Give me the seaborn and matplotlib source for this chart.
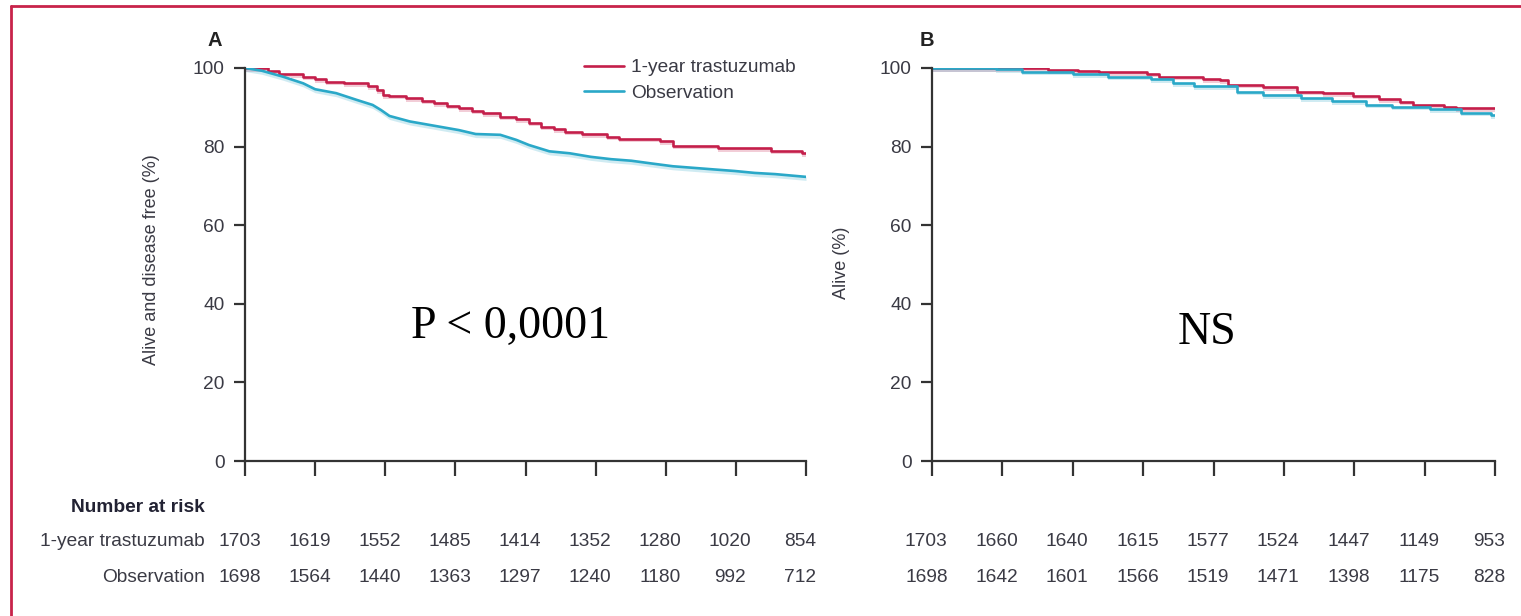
import numpy as np
import pandas as pd
import matplotlib
matplotlib.use("Agg")
import matplotlib.pyplot as plt
import matplotlib.transforms as mtransforms
from matplotlib import font_manager as fm
from matplotlib.lines import Line2D
import seaborn as sns

# ---------------- data ----------------
groups = ["1-year trastuzumab", "Observation"]

# Panel A: disease-free survival (years, %)
a_tras_t = [0, 0.33, 0.48, 0.65, 0.83, 1.00, 1.15, 1.41, 1.76, 1.88, 1.97, 2.06, 2.29, 2.53, 2.70,
            2.88, 3.05, 3.23, 3.40, 3.64, 3.87, 4.05, 4.22, 4.40, 4.57, 4.81, 5.16, 5.34, 5.92,
            6.10, 6.74, 7.50, 7.94, 8.0]
a_tras_s = [100, 99.3, 98.6, 98.4, 97.8, 97.1, 96.5, 96.1, 95.4, 94.4, 93.1, 92.9, 92.3, 91.7, 91.0,
            90.4, 89.7, 89.1, 88.5, 87.6, 86.9, 86.1, 85.1, 84.4, 83.8, 83.2, 82.5, 82.0, 81.3,
            80.2, 79.6, 78.9, 78.3, 78.3]
a_obs_t = [0, 0.24, 0.54, 0.83, 1.00, 1.30, 1.59, 1.82, 1.94, 2.06, 2.35, 2.70, 3.05, 3.29, 3.64,
           3.87, 4.05, 4.34, 4.63, 4.93, 5.22, 5.51, 5.80, 6.10, 6.39, 6.68, 6.98, 7.27, 7.56, 8.0]
a_obs_s = [100, 99.3, 97.8, 96.1, 94.6, 93.6, 91.9, 90.6, 89.3, 87.8, 86.4, 85.3, 84.2, 83.2, 83.0,
           81.7, 80.4, 78.8, 78.3, 77.4, 76.8, 76.4, 75.7, 75.0, 74.6, 74.2, 73.8, 73.3, 73.0, 72.3]

# Panel B: overall survival (years, %)
b_tras_t = [0, 0.91, 1.65, 2.07, 2.38, 3.05, 3.23, 3.85, 4.09, 4.21, 4.70, 5.19, 5.56, 5.98, 6.35,
            6.65, 6.84, 7.27, 7.45, 8.0]
b_tras_s = [100, 100, 99.5, 99.2, 98.9, 98.5, 97.8, 97.2, 96.9, 95.8, 95.1, 94.0, 93.6, 92.9, 92.1,
            91.4, 90.6, 90.2, 89.7, 89.7]
b_obs_t = [0, 0.91, 1.28, 2.01, 2.50, 3.11, 3.42, 3.72, 4.33, 4.70, 5.25, 5.68, 6.16, 6.53, 7.08,
           7.51, 7.94, 8.0]
b_obs_s = [100, 99.7, 99.1, 98.4, 97.8, 97.1, 96.1, 95.3, 94.0, 93.1, 92.3, 91.6, 90.7, 90.2, 89.5,
           88.6, 88.0, 88.0]

risk_times = [0, 1, 2, 3, 4, 5, 6, 7, 8]
a_risk_tras = [1703, 1619, 1552, 1485, 1414, 1352, 1280, 1020, 854]
a_risk_obs = [1698, 1564, 1440, 1363, 1297, 1240, 1180, 992, 712]
b_risk_tras = [1703, 1660, 1640, 1615, 1577, 1524, 1447, 1149, 953]
b_risk_obs = [1698, 1642, 1601, 1566, 1519, 1471, 1398, 1175, 828]

y_ticks = [0, 20, 40, 60, 80, 100]

# ---------------- style ----------------
sns.set_style("white")
def pick_font(cands):
    for c in cands:
        try:
            fm.findfont(fm.FontProperties(family=c), fallback_to_default=False)
            return c
        except Exception:
            pass
    return "DejaVu Sans"
SANS = pick_font(["Liberation Sans", "Arial"])
SERIF = pick_font(["Liberation Serif", "DejaVu Serif"])
plt.rcParams["font.family"] = [SANS, "DejaVu Sans"]

RED = "#C41E4A"
BLUE = "#2AA8C8"
TXT = "#3a3a44"
FS = 13.8
palette = {groups[0]: RED, groups[1]: BLUE}

W, H = 1521, 616
fig = plt.figure(figsize=(W / 100, H / 100), dpi=100)

def frac(x0, y0, x1, y1):
    return [x0 / W, 1 - y1 / H, (x1 - x0) / W, (y1 - y0) / H]

axA = fig.add_axes(frac(245, 68, 806, 461))
axB = fig.add_axes(frac(932, 68, 1495, 461))

def make_df(t, s, g):
    return pd.DataFrame({"t": t, "s": s, "group": [g] * len(t)})

panels = [
    (axA, [make_df(a_tras_t, a_tras_s, groups[0]), make_df(a_obs_t, a_obs_s, groups[1])],
     ["steps-post", "default"]),
    (axB, [make_df(b_tras_t, b_tras_s, groups[0]), make_df(b_obs_t, b_obs_s, groups[1])],
     ["steps-post", "steps-post"]),
]

for ax, dfs, styles in panels:
    for df, ds in zip(dfs, styles):
        g = df.group.iloc[0]
        step = "post" if ds == "steps-post" else None
        ax.fill_between(df.t, df.s - 0.9, df.s, step=step, color=palette[g], alpha=0.22, lw=0)
        sns.lineplot(data=df, x="t", y="s", hue="group", palette=palette,
                     estimator=None, sort=False, drawstyle=ds,
                     linewidth=1.9, legend=False, ax=ax)
    ax.set_xlim(0, 8)
    ax.set_ylim(0, 100)
    ax.set_xticks(risk_times)
    ax.set_xticklabels([])
    ax.set_yticks(y_ticks)
    ax.set_yticklabels([str(v) for v in y_ticks], color=TXT, fontsize=FS)
    ax.tick_params(axis="x", bottom=True, direction="out", length=11, width=1.6, color="#333333")
    ax.tick_params(axis="y", left=True, direction="out", length=8, width=1.6, color="#333333", pad=6.5)
    ax.set_xlabel("")
    for s in ["top", "right"]:
        ax.spines[s].set_visible(False)
    for s in ["left", "bottom"]:
        ax.spines[s].set_color("#333333")
        ax.spines[s].set_linewidth(1.6)
    ax.patch.set_alpha(0)

axA.set_ylabel("Alive and disease free (%)", fontsize=13, color=TXT)
axA.yaxis.set_label_coords((160 - 245) / 561, (461 - 260) / 393)
axB.set_ylabel("Alive (%)", fontsize=13, color=TXT)
axB.yaxis.set_label_coords((850 - 932) / 563, (461 - 263) / 393)

# panel letters
fig.text(215 / W, 1 - 40 / H, "A", fontsize=14.5, fontweight="bold", color="#222222",
         ha="center", va="center")
fig.text(927 / W, 1 - 40 / H, "B", fontsize=14.5, fontweight="bold", color="#222222",
         ha="center", va="center")

# legend
handles = [Line2D([], [], color=RED, lw=1.9), Line2D([], [], color=BLUE, lw=1.9)]
axA.legend(handles, groups, loc="upper left", bbox_to_anchor=(584 / W, 1 - 59 / H),
           bbox_transform=fig.transFigure, frameon=False, fontsize=FS,
           handlelength=2.1, handletextpad=0.35, labelspacing=0.4, labelcolor=TXT,
           borderaxespad=0, borderpad=0)

# p-value annotations
fig.text(511 / W, 1 - 327 / H, "P < 0,0001", family=SERIF, fontsize=33, color="black",
         ha="center", va="center")
fig.text(1207 / W, 1 - 333 / H, "NS", family=SERIF, fontsize=33, color="black",
         ha="center", va="center")

# number at risk
fig.text(205 / W, 1 - 508 / H, "Number at risk", fontsize=FS, fontweight="bold",
         color="#222233", ha="right", va="center")
row_y = [541, 577]
for lab, yy in zip(groups, row_y):
    fig.text(205 / W, 1 - yy / H, lab, fontsize=FS, color=TXT, ha="right", va="center")

for ax, rows in [(axA, [a_risk_tras, a_risk_obs]), (axB, [b_risk_tras, b_risk_obs])]:
    tr = mtransforms.blended_transform_factory(ax.transData, fig.transFigure)
    for vals, yy in zip(rows, row_y):
        for t, v in zip(risk_times, vals):
            ax.text(t - 0.08, 1 - yy / H, str(v), transform=tr, fontsize=FS, color=TXT,
                    ha="center", va="center", clip_on=False)

# frame (top and left edges visible)
fig.add_artist(Line2D([11 / W, 11 / W], [0, 1 - 6 / H], transform=fig.transFigure,
                      color="#C8234A", lw=2))
fig.add_artist(Line2D([11 / W, 1], [1 - 6 / H, 1 - 6 / H], transform=fig.transFigure,
                      color="#C8234A", lw=2))

fig.savefig("out.png", dpi=100)
